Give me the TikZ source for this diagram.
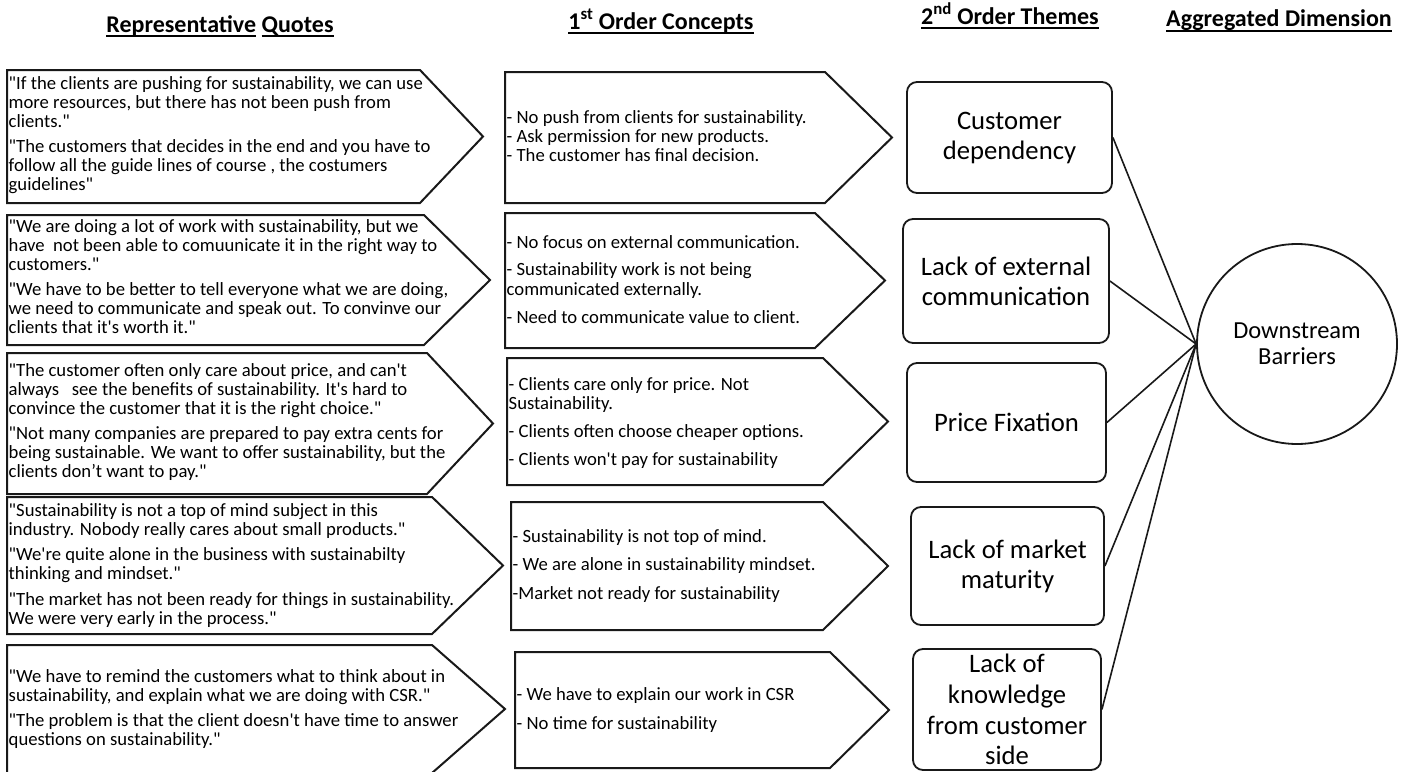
\documentclass[tikz,border=0pt]{standalone}
\usepackage{fontspec}
\setmainfont{Carlito}
% plain font for the body texts: keeps straight quotes and apostrophes
\font\bodyfont="Carlito" at 18.67pt
\newcommand\quotetxt{\bodyfont\baselineskip=19pt\lineskiplimit=-50pt\lineskip=0pt\relax}
\newcommand\concepttxt{\bodyfont\baselineskip=19.5pt\lineskiplimit=-50pt\lineskip=0pt\relax}
\newcommand\themetxt{\fontsize{26.67}{30}\selectfont\baselineskip=30pt\lineskiplimit=-50pt\lineskip=0pt\relax}
\newcommand\dimtxt{\fontsize{24.5}{26}\selectfont\baselineskip=26pt\lineskiplimit=-50pt\lineskip=0pt\relax}
\newcommand\headtxt{\fontsize{24}{28}\selectfont\bfseries}
% line breaks inside the text blocks
\newcommand\nl{\par}
\newcommand\skipline[1]{\par\vskip#1\relax}
% left aligned block, baseline on its first line
\newcommand\leftlines[2]{\vtop{\hsize=470pt\parindent=0pt\parskip=0pt\leftskip=0pt
  \rightskip=0pt plus 1fil\parfillskip=0pt plus 1fil\relax#1\leavevmode#2\par}}
% centred block of a given width
\newcommand\midlines[3]{\vtop{\hsize=#1\parindent=0pt\parskip=0pt\leftskip=0pt plus 1fil
  \rightskip=0pt plus 1fil\parfillskip=0pt\relax#2\leavevmode#3\par}}
% underlined word group: rule 3pt below the baseline
\newsavebox\ulbox
\newcommand\undl[1]{\sbox\ulbox{#1}\rlap{\rule[-4.6pt]{\wd\ulbox}{1.6pt}}\usebox\ulbox}
% pentagon arrow box: left, top, right of the body, tip x, bottom
\newcommand\arrowbox[5]{\draw[boxline] (#1,#2) -- (#3,#2) -- (#4,{(#2+#5)/2}) -- (#3,#5) -- (#1,#5) -- cycle;}
\tikzset{
  boxline/.style={draw=black!90, line width=2pt, line join=miter},
  head/.style={anchor=base, inner sep=0pt, font=\headtxt},
  textblock/.style={anchor=base west, inner sep=0pt},
  theme/.style={draw=black!90, line width=1.8pt, rounded corners=10pt, inner sep=0pt},
  dimnode/.style={circle, draw=black!90, line width=1.8pt, minimum size=200pt, inner sep=0pt},
  link/.style={line width=1.6pt, black!90}
}
\begin{document}
\begin{tikzpicture}[x=1pt,y=-1pt]
\useasboundingbox (0,0) rectangle (1408,771);
\fill[white] (0,0) rectangle (1408,771);

% column headings
\node[head] (hq) at (220,32) {\undl{Representative} \undl{Quotes}};
\node[head] (hc) at (661,29) {\undl{1\textsuperscript{st} Order Concepts}};
\node[head] (ht) at (1010,24) {\undl{2\textsuperscript{nd} Order Themes}};
\node[head] (hd) at (1279,27) {\undl{Aggregated Dimension}};

% representative quotes
\arrowbox{7}{70}{420}{483}{203}
\arrowbox{7}{215}{424}{490}{345}
\arrowbox{7}{353}{427}{493}{494}
\arrowbox{7}{497}{432}{503}{634}
\arrowbox{7}{645}{432}{505}{773}

\node[textblock] (q1) at (8.5,89) {\leftlines{\quotetxt}{%
"If the clients are pushing for sustainability, we can use\nl
more resources, but there has not been push from\nl
clients."\skipline{6.5pt}
"The customers that decides in the end and you have to\nl
follow all the guide lines of course , the costumers\nl
guidelines"}};

\node[textblock] (q2) at (8.5,232) {\leftlines{\quotetxt}{%
"We are doing a lot of work with sustainability, but we\nl
have~ not been able to comuunicate it in the right way to\nl
customers."\skipline{6.5pt}
"We have to be better to tell everyone what we are doing,\nl
we need to communicate and speak out. To convinve our\nl
clients that it's worth it."}};

\node[textblock] (q3) at (8.5,376) {\leftlines{\quotetxt}{%
"The customer often only care about price, and can't\nl
always~~ see the benefits of sustainability. It's hard to\nl
convince the customer that it is the right choice."\skipline{6.5pt}
"Not many companies are prepared to pay extra cents for\nl
being sustainable. We want to offer sustainability, but the\nl
clients don’t want to pay."}};

\node[textblock] (q4) at (8.5,516) {\leftlines{\quotetxt}{%
"Sustainability is not a top of mind subject in this\nl
industry. Nobody really cares about small products."\skipline{6.5pt}
"We're quite alone in the business with sustainabilty\nl
thinking and mindset."\skipline{6.5pt}
"The market has not been ready for things in sustainability.\nl
We were very early in the process."}};

\node[textblock] (q5) at (8.5,682) {\leftlines{\quotetxt}{%
"We have to remind the customers what to think about in\nl
sustainability, and explain what we are doing with CSR."\skipline{6.5pt}
"The problem is that the client doesn't have time to answer\nl
questions on sustainability."}};

% first order concepts
\arrowbox{505}{72}{825}{892}{203}
\arrowbox{505}{213}{815}{885}{348}
\arrowbox{507}{358}{823}{888}{485}
\arrowbox{511}{502}{823}{888}{630}
\arrowbox{515}{652}{830}{889}{768}

\node[textblock] (c1) at (506.5,123) {\leftlines{\concepttxt\baselineskip=19.3pt}{%
- No push from clients for sustainability.\nl
- Ask permission for new products.\nl
- The customer has final decision.}};

\node[textblock] (c2) at (506.5,248) {\leftlines{\concepttxt}{%
- No focus on external communication.\skipline{8pt}
- Sustainability work is not being\nl
communicated externally.\skipline{8.5pt}
- Need to communicate value to client.}};

\node[textblock] (c3) at (508.5,390) {\leftlines{\concepttxt}{%
- Clients care only for price. Not\nl
Sustainability.\skipline{8.5pt}
- Clients often choose cheaper options.\skipline{8.5pt}
- Clients won't pay for sustainability}};

\node[textblock] (c4) at (512.5,542) {\leftlines{\concepttxt}{%
- Sustainability is not top of mind.\skipline{9pt}
- We are alone in sustainability mindset.\skipline{9pt}
-Market not ready for sustainability}};

\node[textblock] (c5) at (516.5,700) {\leftlines{\concepttxt}{%
- We have to explain our work in CSR\skipline{9.5pt}
- No time for sustainability}};

% second order themes
\node[theme, minimum width=205pt, minimum height=111pt] (t1) at (1009.5,137.5)
  {\midlines{182pt}{\themetxt}{Customer\nl dependency}};
\node[theme, minimum width=206pt, minimum height=124pt] (t2) at (1006,281)
  {\midlines{182pt}{\themetxt}{Lack of external\nl communication}};
\node[theme, minimum width=199pt, minimum height=119pt] (t3) at (1006.5,422.5)
  {\midlines{182pt}{\themetxt}{Price Fixation}};
\node[theme, minimum width=193pt, minimum height=118pt] (t4) at (1007.5,566)
  {\midlines{182pt}{\themetxt}{Lack of market\nl maturity}};
\node[theme, minimum width=188pt, minimum height=121pt] (t5) at (1007,709.5)
  {\midlines{182pt}{\themetxt\baselineskip=30.7pt}{Lack of\nl knowledge\nl from customer\nl side}};

% aggregated dimension
\node[dimnode] (dim) at (1297,344) {\midlines{170pt}{\dimtxt}{Downstream\nl Barriers}};

\foreach \t in {t1,t2,t3,t4,t5}
  \draw[link] (\t.east) -- (dim.west);
\end{tikzpicture}
\end{document}
